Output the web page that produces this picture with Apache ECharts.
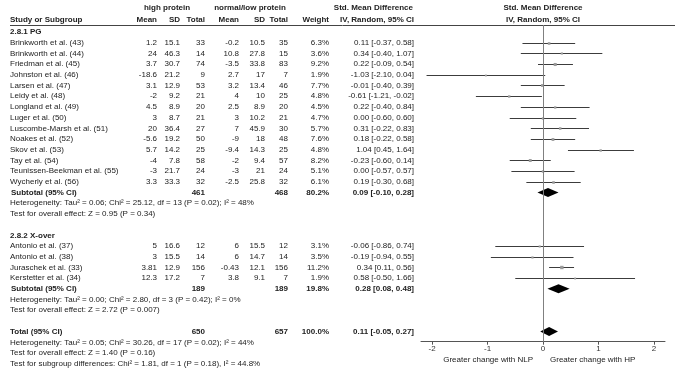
<!DOCTYPE html>
<html>
<head>
<meta charset="utf-8">
<script src="https://cdn.jsdelivr.net/npm/echarts@6/dist/echarts.min.js"></script>
<style>
html, body { margin: 0; padding: 0; background: #fff; }
#chart { width: 675px; height: 375px; }
</style>
</head>
<body>
<div id="chart"></div>
<script>
// study rows
let studyNames = ['Brinkworth et al. (43)', 'Brinkworth et al. (44)', 'Friedman et al. (45)', 'Johnston et al. (46)',
  'Larsen et al. (47)', 'Leidy et al. (48)', 'Longland et al. (49)', 'Luger et al. (50)', 'Luscombe-Marsh et al. (51)',
  'Noakes et al. (52)', 'Skov et al. (53)', 'Tay et al. (54)', 'Teunissen-Beekman et al. (55)', 'Wycherly et al. (56)',
  'Antonio et al. (37)', 'Antonio et al. (38)', 'Juraschek et al. (33)', 'Kerstetter et al. (34)'];
let studyGroup = [0, 0, 0, 0, 0, 0, 0, 0, 0, 0, 0, 0, 0, 0, 1, 1, 1, 1];
let hpMean = [1.2, 24, 3.7, -18.6, 3.1, -2, 4.5, 3, 20, -5.6, 5.7, -4, -3, 3.3, 5, 3, 3.81, 12.3];
let hpSD = [15.1, 46.3, 30.7, 21.2, 12.9, 9.2, 8.9, 8.7, 36.4, 19.2, 14.2, 7.8, 21.7, 33.3, 16.6, 15.5, 12.9, 17.2];
let hpTotal = [33, 14, 74, 9, 53, 21, 20, 21, 27, 50, 25, 58, 24, 32, 12, 14, 156, 7];
let lpMean = [-0.2, 10.8, -3.5, 2.7, 3.2, 4, 2.5, 3, 7, -9, -9.4, -2, -3, -2.5, 6, 6, -0.43, 3.8];
let lpSD = [10.5, 27.8, 33.8, 17, 13.4, 10, 8.9, 10.2, 45.9, 18, 14.3, 9.4, 21, 25.8, 15.5, 14.7, 12.1, 9.1];
let lpTotal = [35, 15, 83, 7, 46, 25, 20, 21, 30, 48, 25, 57, 24, 32, 12, 14, 156, 7];
let weight = [6.3, 3.6, 9.2, 1.9, 7.7, 4.8, 4.5, 4.7, 5.7, 7.6, 4.8, 8.2, 5.1, 6.1, 3.1, 3.5, 11.2, 1.9];
let smd = [0.11, 0.34, 0.22, -1.03, -0.01, -0.61, 0.22, 0.00, 0.31, 0.18, 1.04, -0.23, 0.00, 0.19, -0.06, -0.19, 0.34, 0.58];
let ciLow = [-0.37, -0.40, -0.09, -2.10, -0.40, -1.21, -0.40, -0.60, -0.22, -0.22, 0.45, -0.60, -0.57, -0.30, -0.86, -0.94, 0.11, -0.50];
let ciHigh = [0.58, 1.07, 0.54, 0.04, 0.39, -0.02, 0.84, 0.60, 0.83, 0.58, 1.64, 0.14, 0.57, 0.68, 0.74, 0.55, 0.56, 1.66];

// subgroups
let groupNames = ['2.8.1 PG', '2.8.2 X-over'];
let groupHpTotal = [461, 189];
let groupLpTotal = [468, 189];
let groupWeight = [80.2, 19.8];
let groupSmd = [0.09, 0.28];
let groupLow = [-0.10, 0.08];
let groupHigh = [0.28, 0.48];
let groupHet = ['Heterogeneity: Tau² = 0.06; Chi² = 25.12, df = 13 (P = 0.02); I² = 48%',
  'Heterogeneity: Tau² = 0.00; Chi² = 2.80, df = 3 (P = 0.42); I² = 0%'];
let groupTest = ['Test for overall effect: Z = 0.95 (P = 0.34)', 'Test for overall effect: Z = 2.72 (P = 0.007)'];

// overall
let totalHp = 650, totalLp = 657, totalWeight = 100.0;
let totalSmd = 0.11, totalLow = -0.05, totalHigh = 0.27;
let totalNotes = ['Heterogeneity: Tau² = 0.05; Chi² = 30.26, df = 17 (P = 0.02); I² = 44%',
  'Test for overall effect: Z = 1.40 (P = 0.16)',
  'Test for subgroup differences: Chi² = 1.81, df = 1 (P = 0.18), I² = 44.8%'];
let xTicks = [-2, -1, 0, 1, 2];

// row numbers (one row per text line)
let studyRow = [], groupRow = [], subRow = [];
let r = 0;
groupNames.forEach(function (g, gi) {
  groupRow.push(r++);
  studyNames.forEach(function (n, i) { if (studyGroup[i] === gi) studyRow[i] = r++; });
  subRow.push(r);
  r += 4;
});
let totalRow = r;

let ciData = studyNames.map(function (n, i) { return [smd[i], ciLow[i], ciHigh[i], studyRow[i], weight[i]]; });
let diamondData = groupNames.map(function (g, gi) { return [groupSmd[gi], groupLow[gi], groupHigh[gi], subRow[gi]]; });
diamondData.push([totalSmd, totalLow, totalHigh, totalRow]);

let FONT = 'Liberation Sans, Arial, sans-serif';
let myChart = echarts.init(document.getElementById('chart'));

let option = {
  animation: false,
  grid: { left: 421, width: 244, top: 25, bottom: 33.3 },
  xAxis: {
    type: 'value', min: -2.2, max: 2.2,
    axisLine: { onZero: false, lineStyle: { color: '#555', width: 1 } },
    axisTick: { customValues: xTicks, length: 3, lineStyle: { color: '#555' } },
    axisLabel: { customValues: xTicks, fontSize: 8, fontFamily: FONT, color: '#333', margin: 3 },
    splitLine: { show: false }
  },
  yAxis: { type: 'value', inverse: true, min: -0.654, max: 28.944, show: false },
  series: [
    {
      type: 'custom',
      data: ciData,
      encode: { x: [0, 1, 2], y: 3 },
      renderItem: function (params, api) {
        let k = api.value(3);
        let p0 = api.coord([api.value(1), k]);
        let p1 = api.coord([api.value(2), k]);
        let c = api.coord([api.value(0), k]);
        let y = Math.round(p0[1]) + 0.5;
        let s = 1.6 + api.value(4) * 0.16;
        return {
          type: 'group',
          children: [
            { type: 'line', shape: { x1: p0[0], y1: y, x2: p1[0], y2: y }, style: { stroke: '#3c3c3c', lineWidth: 1 } },
            { type: 'rect', shape: { x: c[0] - s / 2, y: y - s / 2, width: s, height: s }, style: { fill: '#9a9a9a' } }
          ]
        };
      },
      markLine: {
        silent: true, symbol: 'none', label: { show: false },
        lineStyle: { color: '#808080', width: 1, type: 'solid' },
        data: [{ xAxis: 0 }]
      }
    },
    {
      type: 'custom',
      data: diamondData,
      encode: { x: [0, 1, 2], y: 3 },
      renderItem: function (params, api) {
        let k = api.value(3);
        let lo = api.coord([api.value(1), k]);
        let hi = api.coord([api.value(2), k]);
        let c = api.coord([api.value(0), k]);
        let h = 4.5;
        return {
          type: 'polygon',
          shape: { points: [[lo[0], lo[1]], [c[0], c[1] - h], [hi[0], hi[1]], [c[0], c[1] + h]] },
          style: { fill: '#000' }
        };
      }
    }
  ]
};
myChart.setOption(option);

// table text
function rowY(k) { return myChart.convertToPixel({ gridIndex: 0 }, [0, k])[1]; }
function txt(x, y, s, align, bold) {
  return {
    type: 'text', x: x, y: y, silent: true,
    style: { text: String(s), fontSize: 8, fontFamily: FONT, fill: '#222', align: align || 'left',
      verticalAlign: 'middle', fontWeight: bold ? 'bold' : 'normal' }
  };
}
function ciText(m, lo, hi) { return m.toFixed(2) + ' [' + lo.toFixed(2) + ', ' + hi.toFixed(2) + ']'; }

let col = { name: 10, hpMean: 157, hpSD: 180, hpN: 205, lpMean: 239, lpSD: 265, lpN: 288, weight: 329, ci: 414 };
let els = [];
// headers
els.push(txt(167, 8, 'high protein', 'center', true));
els.push(txt(250, 8, 'normal/low protein', 'center', true));
els.push(txt(413, 8, 'Std. Mean Difference', 'right', true));
els.push(txt(543, 8, 'Std. Mean Difference', 'center', true));
els.push(txt(col.name, 20, 'Study or Subgroup', 'left', true));
els.push(txt(col.hpMean, 20, 'Mean', 'right', true));
els.push(txt(col.hpSD, 20, 'SD', 'right', true));
els.push(txt(col.hpN, 20, 'Total', 'right', true));
els.push(txt(col.lpMean, 20, 'Mean', 'right', true));
els.push(txt(col.lpSD, 20, 'SD', 'right', true));
els.push(txt(col.lpN, 20, 'Total', 'right', true));
els.push(txt(col.weight, 20, 'Weight', 'right', true));
els.push(txt(col.ci, 20, 'IV, Random, 95% CI', 'right', true));
els.push(txt(543, 20, 'IV, Random, 95% CI', 'center', true));
els.push({ type: 'line', silent: true, shape: { x1: 10, y1: 25.5, x2: 675, y2: 25.5 }, style: { stroke: '#444', lineWidth: 1 } });

studyNames.forEach(function (n, i) {
  let y = rowY(studyRow[i]);
  els.push(txt(col.name, y, n));
  els.push(txt(col.hpMean, y, hpMean[i], 'right'));
  els.push(txt(col.hpSD, y, hpSD[i], 'right'));
  els.push(txt(col.hpN, y, hpTotal[i], 'right'));
  els.push(txt(col.lpMean, y, lpMean[i], 'right'));
  els.push(txt(col.lpSD, y, lpSD[i], 'right'));
  els.push(txt(col.lpN, y, lpTotal[i], 'right'));
  els.push(txt(col.weight, y, weight[i].toFixed(1) + '%', 'right'));
  els.push(txt(col.ci, y, ciText(smd[i], ciLow[i], ciHigh[i]), 'right'));
});
groupNames.forEach(function (g, gi) {
  els.push(txt(col.name, rowY(groupRow[gi]), g, 'left', true));
  let y = rowY(subRow[gi]);
  els.push(txt(col.name + 1, y, 'Subtotal (95% CI)', 'left', true));
  els.push(txt(col.hpN, y, groupHpTotal[gi], 'right', true));
  els.push(txt(col.lpN, y, groupLpTotal[gi], 'right', true));
  els.push(txt(col.weight, y, groupWeight[gi].toFixed(1) + '%', 'right', true));
  els.push(txt(col.ci, y, ciText(groupSmd[gi], groupLow[gi], groupHigh[gi]), 'right', true));
  els.push(txt(col.name, rowY(subRow[gi] + 1), groupHet[gi]));
  els.push(txt(col.name, rowY(subRow[gi] + 2), groupTest[gi]));
});
let ty = rowY(totalRow);
els.push(txt(col.name, ty, 'Total (95% CI)', 'left', true));
els.push(txt(col.hpN, ty, totalHp, 'right', true));
els.push(txt(col.lpN, ty, totalLp, 'right', true));
els.push(txt(col.weight, ty, totalWeight.toFixed(1) + '%', 'right', true));
els.push(txt(col.ci, ty, ciText(totalSmd, totalLow, totalHigh), 'right', true));
totalNotes.forEach(function (s, j) { els.push(txt(col.name, rowY(totalRow + 1 + j), s)); });

// direction labels under the axis
els.push(txt(533, 360, 'Greater change with NLP', 'right'));
els.push(txt(550, 360, 'Greater change with HP', 'left'));

myChart.setOption({ graphic: els });
</script>
</body>
</html>
